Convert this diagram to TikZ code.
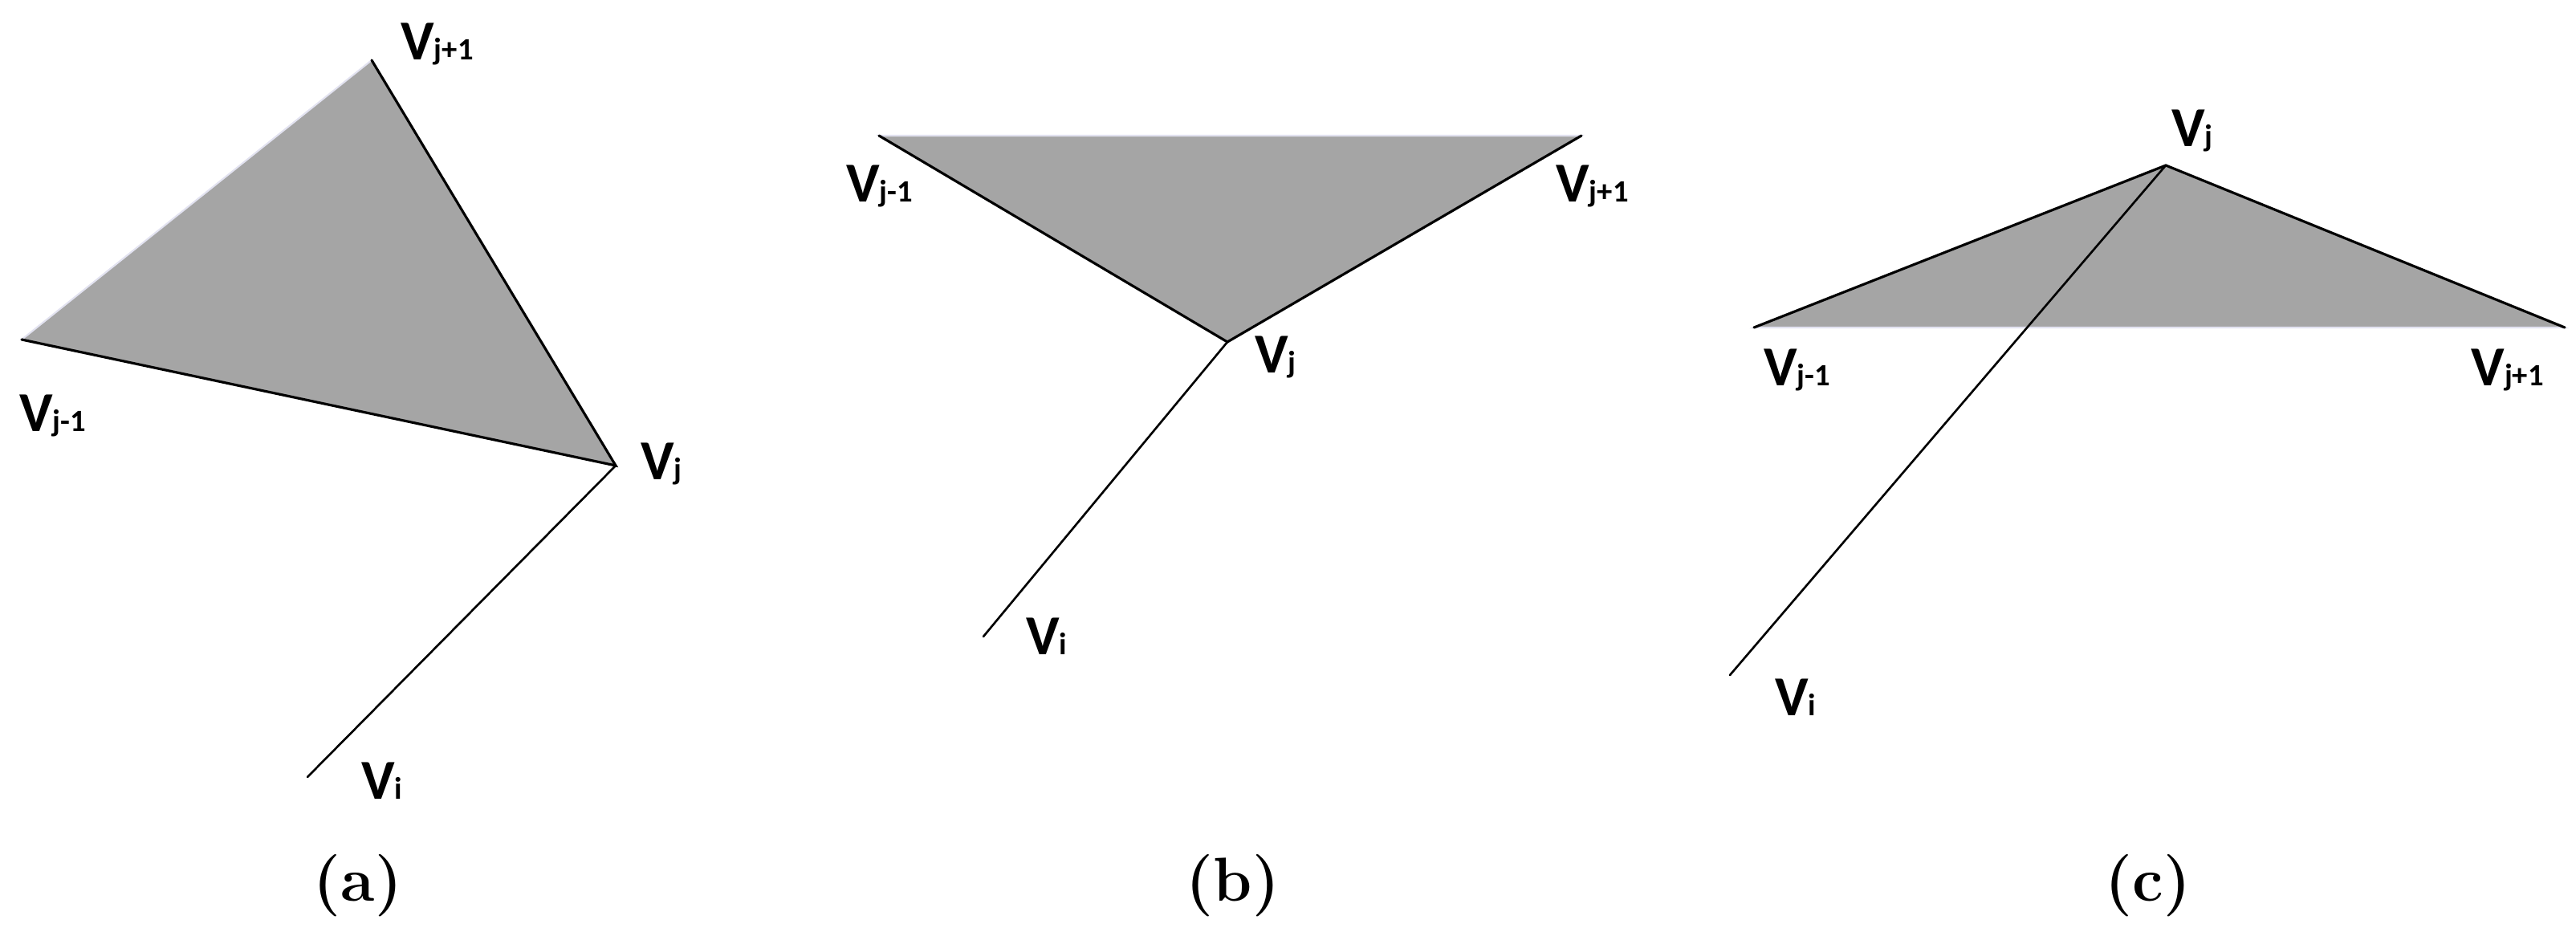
\documentclass[tikz,border=0pt]{standalone}
\usepackage{fontspec}
\newfontfamily\labfont{Carlito}
\usepackage{tikz}
\usetikzlibrary{positioning}

\definecolor{facegray}{RGB}{165,165,165}
\definecolor{faintedge}{RGB}{226,226,240}

% vertex label: big V with a small index on the same baseline
\newcommand{\vlab}[1]{{\labfont\bfseries\fontsize{20}{24}\selectfont V}{\labfont\bfseries\fontsize{11}{13}\selectfont #1}}

\begin{document}
\begin{tikzpicture}[thick,
    face/.style={fill=facegray, draw=faintedge, line width=0.6pt},
    edge/.style={line width=0.9pt, line cap=round},
    ray/.style={line width=0.75pt, line cap=round},
    vname/.style={inner sep=0pt, anchor=base west},
    caption/.style={inner sep=0pt, anchor=base, font=\bfseries\fontsize{22}{26}\selectfont}]

    \useasboundingbox (0,0) rectangle (32.09,11.66);

    % Panel (a): vertices
    \coordinate (ajp) at (4.63,10.91);
    \coordinate (ajm) at (0.27,7.43);
    \coordinate (aj) at (7.67,5.86);
    \coordinate (ai) at (3.83,1.98);

    % Panel (b): vertices
    \coordinate (bjm) at (10.95,9.97);
    \coordinate (bjp) at (19.70,9.97);
    \coordinate (bj) at (15.29,7.40);
    \coordinate (bi) at (12.25,3.73);

    % Panel (c): vertices
    \coordinate (cj) at (26.98,9.60);
    \coordinate (cjm) at (21.85,7.58);
    \coordinate (cjp) at (31.95,7.58);
    \coordinate (ci) at (21.55,3.25);

    % Shaded faces
    \filldraw[face] (ajm) -- (ajp) -- (aj) -- cycle;
    \filldraw[face] (bjm) -- (bjp) -- (bj) -- cycle;
    \filldraw[face] (cjm) -- (cj) -- (cjp) -- cycle;

    % Edges at v_j
    \draw[edge] (ajm) -- (aj) -- (ajp);
    \draw[edge] (bjm) -- (bj) -- (bjp);
    \draw[edge] (cjm) -- (cj) -- (cjp);

    % Edges from v_j to v_i
    \draw[ray] (aj) -- (ai);
    \draw[ray] (bj) -- (bi);
    \draw[ray] (cj) -- (ci);

    % Vertex labels
    \node[vname] (lajp) at (4.98,10.91) {\vlab{j+1}};
    \node[vname] (lajm) at (0.23,6.28) {\vlab{j-1}};
    \node[vname] (laj) at (7.97,5.68) {\vlab{j}};
    \node[vname] (lai) at (4.49,1.70) {\vlab{i}};

    \node[vname] (lbjm) at (10.53,9.14) {\vlab{j-1}};
    \node[vname] (lbjp) at (19.37,9.14) {\vlab{j+1}};
    \node[vname] (lbj) at (15.62,7.01) {\vlab{j}};
    \node[vname] (lbi) at (12.77,3.50) {\vlab{i}};

    \node[vname] (lcj) at (27.04,9.83) {\vlab{j}};
    \node[vname] (lcjm) at (21.96,6.85) {\vlab{j-1}};
    \node[vname] (lcjp) at (30.77,6.85) {\vlab{j+1}};
    \node[vname] (lci) at (22.10,2.74) {\vlab{i}};

    % Captions
    \node[caption] (capa) at (4.46,0.43) {(a)};
    \node[caption] (capb) at (15.36,0.43) {(b)};
    \node[caption] (capc) at (26.76,0.43) {(c)};

\end{tikzpicture}
\end{document}
